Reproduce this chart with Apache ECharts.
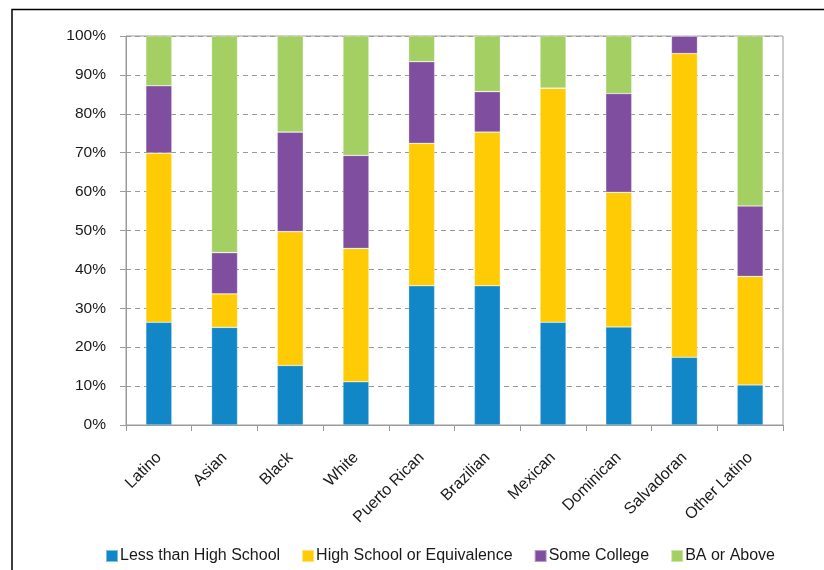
<!DOCTYPE html>
<html>
<head>
<meta charset="utf-8">
<script src="https://cdn.jsdelivr.net/npm/echarts@6/dist/echarts.min.js"></script>
<style>
html,body{margin:0;padding:0;background:#fff;}
#chart{width:824px;height:570px;}
</style>
</head>
<body>
<div id="chart"></div>
<script>
const categories = ["Latino","Asian","Black","White","Puerto Rican","Brazilian","Mexican","Dominican","Salvadoran","Other Latino"];
const lessThanHS   = [26.4, 25.1, 15.3, 11.1, 35.8, 35.8, 26.4, 25.2, 17.4, 10.3];
const hsEquiv      = [43.5,  8.6, 34.4, 34.3, 36.6, 39.5, 60.2, 34.6, 78.1, 27.9];
const someCollege  = [17.3, 10.6, 25.6, 23.9, 21.0, 10.4,  0.0, 25.4,  4.5, 18.1];
const baOrAbove    = [12.8, 55.7, 24.7, 30.7,  6.6, 14.3, 13.4, 14.8,  0.0, 43.7];
const seriesNames  = ["Less than High School","High School or Equivalence","Some College","BA or Above"];
const colors = ["#1287C8","#FFCB05","#7F4E9E","#A4CF63"];
const yTicks = [0,10,20,30,40,50,60,70,80,90,100];

const FONT = "Liberation Sans, Arial, sans-serif";
const chart = echarts.init(document.getElementById('chart'), null, {renderer:'canvas'});
const dataSets = [lessThanHS, hsEquiv, someCollege, baOrAbove];
chart.setOption({
  animation:false,
  color: colors,
  textStyle:{fontFamily:FONT},
  graphic:[{
    type:'rect', shape:{x:12, y:9.5, width:900, height:700},
    style:{fill:'none', stroke:'#000', lineWidth:1.5}, silent:true
  }],
  grid:{left:126, right:41, top:36, bottom:145, show:true, borderColor:'#9a9a9a', borderWidth:1, backgroundColor:'transparent'},
  legend:{
    left:105, top:548, padding:0, itemWidth:12, itemHeight:12, itemGap:21,
    icon:'rect',
    textStyle:{fontFamily:FONT, fontSize:16, color:'#1a1a1a', padding:[0,0,0,-3]},
    data: seriesNames
  },
  xAxis:{
    type:'category', data:categories,
    axisLine:{lineStyle:{color:'#9a9a9a', width:1}},
    axisTick:{show:true, alignWithLabel:false, length:6, lineStyle:{color:'#9a9a9a'}},
    axisLabel:{rotate:45, margin:30, fontFamily:FONT, fontSize:16, color:'#1a1a1a', interval:0}
  },
  yAxis:{
    type:'value', min:0, max:100, interval:10,
    axisLine:{show:true, lineStyle:{color:'#9a9a9a', width:1}},
    axisTick:{show:true, length:6, lineStyle:{color:'#9a9a9a'}},
    axisLabel:{formatter:'{value}%', margin:20, fontFamily:FONT, fontSize:15.5, color:'#1a1a1a'},
    splitLine:{show:true, lineStyle:{color:'#9a9a9a', type:[5,4], width:1}}
  },
  series: seriesNames.map((n,i)=>({
    name:n, type:'bar', stack:'total', barWidth:26,
    data: dataSets[i],
    itemStyle:{color:colors[i], borderColor:'rgba(255,255,255,0.45)', borderWidth:0.6}
  }))
});
</script>
</body>
</html>
